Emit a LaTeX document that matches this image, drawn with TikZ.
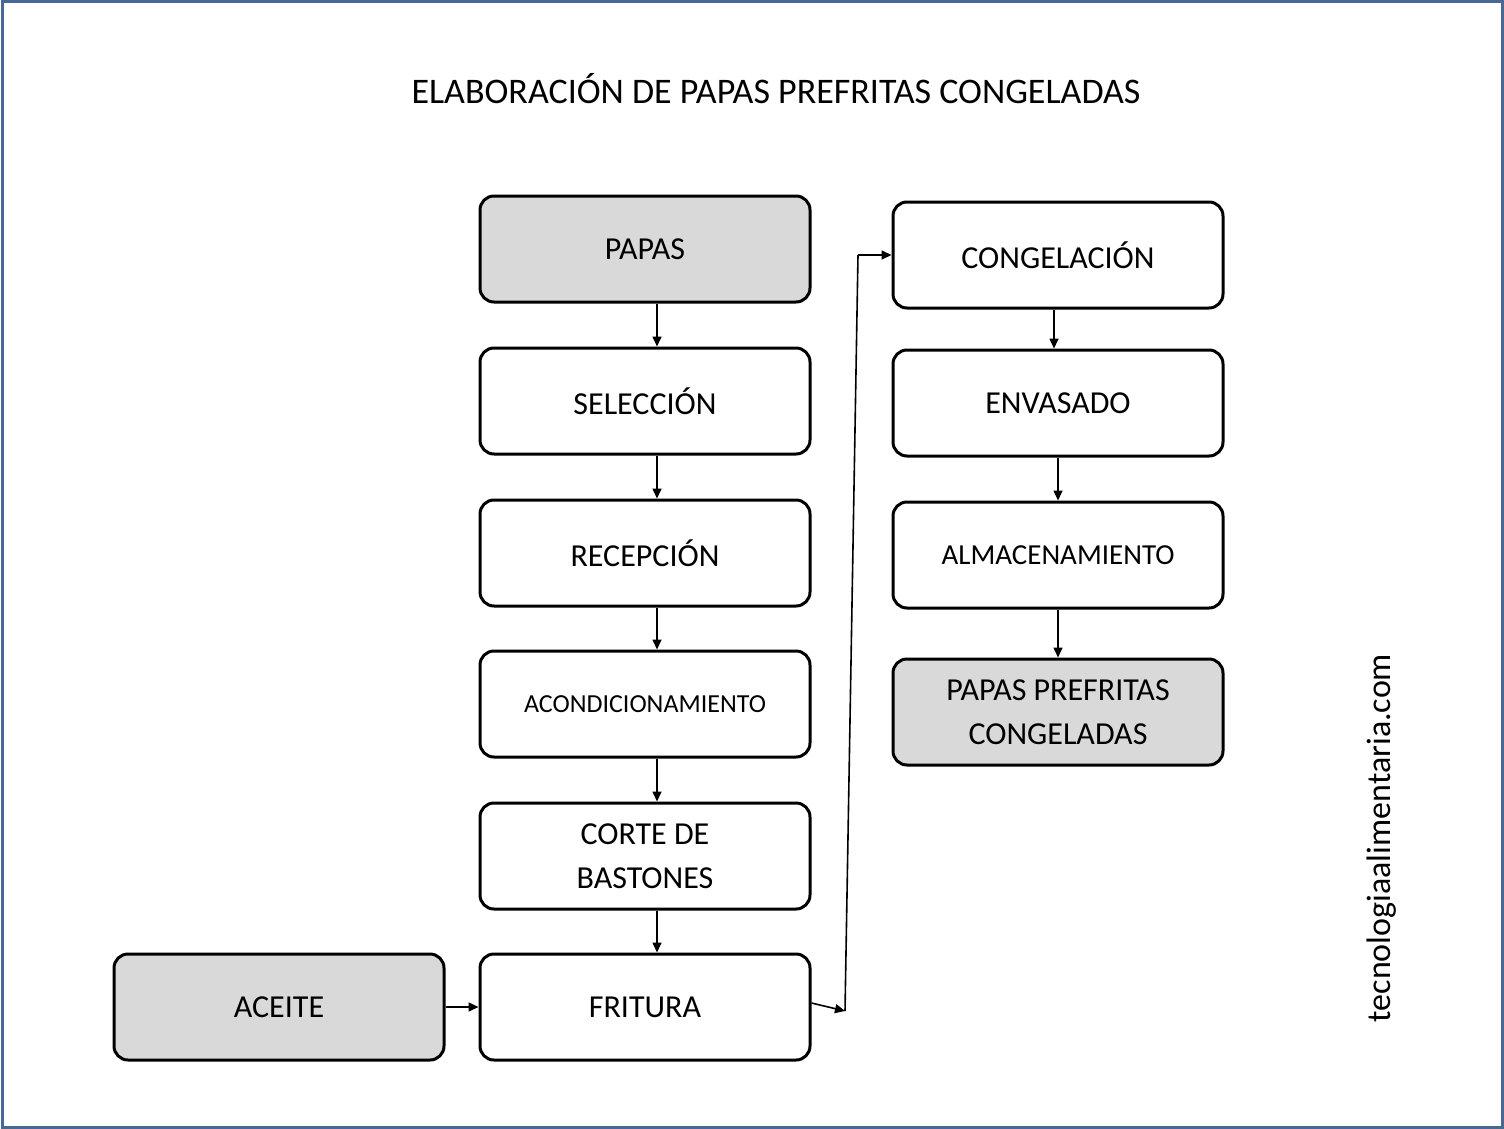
\documentclass[tikz,border=0pt]{standalone}
\usepackage{fontspec}
\setmainfont{Carlito}
\usetikzlibrary{arrows.meta}
\begin{document}
\begin{tikzpicture}[x=1pt,y=-1pt,
  box/.style={draw=black,line width=3pt,rounded corners=14pt,minimum width=330pt,minimum height=106pt,align=center,font=\fontsize{32}{44}\selectfont,fill=white},
  gbox/.style={box,fill=gray!30},
  arr/.style={line width=1.6pt,-{Triangle[length=10pt,width=9pt]}}]
\useasboundingbox (0,0) rectangle (1504,1129);
\fill[white] (0,0) rectangle (1504,1129);
\draw[color={rgb,255:red,74;green,104;blue,150},line width=3pt] (2,2) rectangle (1502,1127);
\node[font=\fontsize{36}{40}\selectfont] (title) at (776,89) {ELABORACIÓN DE PAPAS PREFRITAS CONGELADAS};
\node[gbox] (papas) at (645,249) {PAPAS};
\node[box] (sel) at (645,401) {SELECCIÓN};
\node[box] (rec) at (645,553) {RECEPCIÓN};
\node[box,font=\fontsize{26}{30}\selectfont] (acon) at (645,704) {ACONDICIONAMIENTO};
\node[box] (corte) at (645,856) {CORTE DE\\BASTONES};
\node[box] (frit) at (645,1007) {FRITURA};
\node[gbox] (aceite) at (279,1007) {ACEITE};
\node[box] (cong) at (1058,255) {CONGELACIÓN};
\node[box] (env) at (1058,403) {ENVASADO};
\node[box,font=\fontsize{29}{34}\selectfont] (alm) at (1058,555) {ALMACENAMIENTO};
\node[gbox] (ppc) at (1058,712) {PAPAS PREFRITAS\\CONGELADAS};
\foreach \a/\b in {papas/sel,sel/rec,rec/acon,acon/corte,corte/frit}
  \draw[arr] ([xshift=12pt]\a.south) -- ([xshift=12pt]\b.north);
\draw[arr] ([xshift=-4pt]cong.south) -- ([xshift=-4pt]env.north);
\draw[arr] (env) -- (alm);
\draw[arr] (alm) -- (ppc);
\draw[arr] (aceite.east) -- (frit.west);
\coordinate (c1) at (845,1011);
\coordinate (c2) at (858,255);
\draw[arr] ([yshift=4pt]frit.east) -- (c1);
\draw[line width=1.6pt] (c1) -- (c2);
\draw[arr] (c2) -- (cong.west);
\node[rotate=90,font=\fontsize{34}{40}\selectfont] (web) at (1382,838) {tecnologiaalimentaria.com};
\end{tikzpicture}
\end{document}
